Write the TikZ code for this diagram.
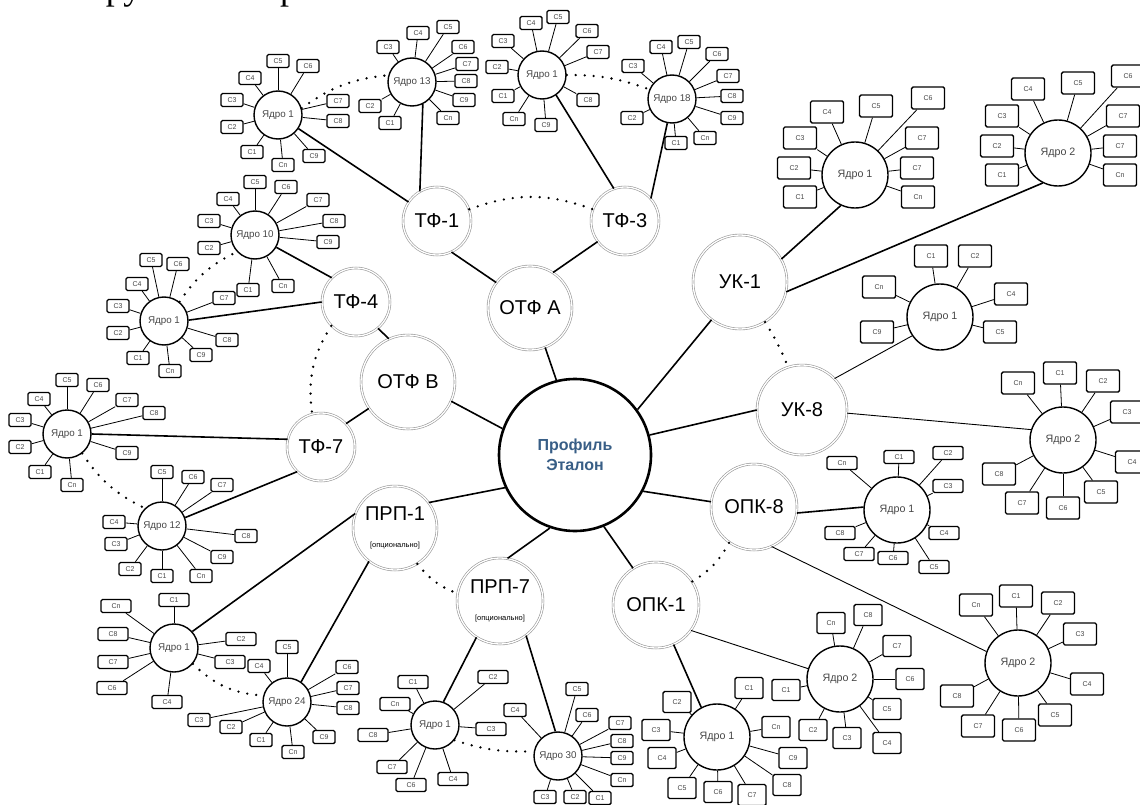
\documentclass[tikz,border=0pt]{standalone}
\usepackage{fontspec}
\setmainfont{Liberation Sans}
\newfontfamily\titlefont{Liberation Serif}
\usepackage{tikz}
\usetikzlibrary{positioning}

\definecolor{hubblue}{RGB}{56,94,134}
\definecolor{ringgray}{RGB}{150,150,150}
\definecolor{labgray}{RGB}{70,70,70}

% one core with its satellite boxes: style, name, position, label, box style, list
\newcommand{\corecluster}[6]{%
  \node[#1] (#2) at (#3) {#4};
  \foreach \lab/\px/\py [count=\k] in {#6}
    \node[#5] (#2-\k) at (\px,\py) {\lab};
  \foreach \lab/\px/\py [count=\k] in {#6}
    \draw[spoke] (#2) -- (#2-\k);
}

\begin{document}
\begin{tikzpicture}[x=1pt, y=-1pt,
  hub/.style={circle, draw, line width=2.6pt, minimum size=152pt, inner sep=0pt,
              align=center, text=hubblue, font=\bfseries\fontsize{16}{20}\selectfont},
  unit/.style={circle, draw=ringgray, double, double distance=1.3pt, line width=0.6pt,
               inner sep=0pt, align=center, font=\fontsize{20}{24}\selectfont},
  core/.style={circle, draw, line width=1.4pt, minimum size=48pt, inner sep=0pt,
               text=labgray, font=\fontsize{9.8}{11}\selectfont},
  bigcore/.style={core, minimum size=66pt, font=\fontsize{10.7}{12}\selectfont},
  sbox/.style={draw, line width=1.4pt, rounded corners=1.5pt, minimum width=22pt,
               minimum height=13pt, inner sep=0pt, text=labgray,
               font=\fontsize{7}{8}\selectfont},
  wbox/.style={sbox, minimum width=30pt},
  mbox/.style={sbox, minimum width=28pt, minimum height=21pt},
  lbox/.style={sbox, minimum width=33pt, minimum height=22pt},
  spoke/.style={line width=0.8pt},
  link/.style={line width=1.6pt},
  thinlink/.style={line width=0.9pt},
  gap/.style={line width=2.6pt, line cap=round, dash pattern=on 0pt off 9pt}]
\useasboundingbox (0,0) rectangle (1140,805);

\node[anchor=base west, inner sep=0pt, font=\titlefont\fontsize{36}{40}\selectfont]
  (title) at (87,0) {Групповой проект};

% centre and units
\node[hub] (prof) at (575,455) {Профиль\\Эталон};
\node[unit, minimum size=84pt] (otfa) at (530,308) {ОТФ А};
\node[unit, minimum size=94pt] (otfb) at (408,382) {ОТФ В};
\node[unit, minimum size=68pt] (tf1) at (437,221) {ТФ-1};
\node[unit, minimum size=68pt] (tf3) at (625,221) {ТФ-3};
\node[unit, minimum size=68pt] (tf4) at (356,302) {ТФ-4};
\node[unit, minimum size=68pt] (tf7) at (321,447) {ТФ-7};
\node[unit, minimum size=94pt] (uk1) at (740,282) {УК-1};
\node[unit, minimum size=90pt] (uk8) at (802,410) {УК-8};
\node[unit, minimum size=86pt] (opk8) at (754,507) {ОПК-8};
\node[unit, minimum size=86pt] (opk1) at (656,605) {ОПК-1};
\node[unit, minimum size=84pt] (prp1) at (395,528)
  {ПРП-1\\[3pt]{\fontsize{7.5}{9}\selectfont [опционально]}};
\node[unit, minimum size=86pt] (prp7) at (500,601)
  {ПРП-7\\[3pt]{\fontsize{7.5}{9}\selectfont [опционально]}};

\draw[link] (prof.104) -- (otfa.-69);
\draw[link] (prof.160) -- (otfb.-24);
\draw[link] (prof.36) -- (uk1.233);
\draw[link] (prof.15) -- (uk8.180);
\draw[link] (prof.-28) -- (opk8.173);
\draw[link] (prof.-68) -- (opk1.122);
\draw[link] (prof.-109) -- (prp7.80);
\draw[link] (prof.205) -- (prp1.37);
\draw[link] (otfa.143) -- (tf1.-65);
\draw[link] (otfa.57) -- (tf3.217);
\draw[link] (otfb.114) -- (tf4.-50);
\draw[link] (otfb.214) -- (tf7.43);

% cores of the units
\corecluster{core}{a1}{278,115}{Ядро 1}{sbox}{С1/252/152, С2/232/127, С3/232/100,
  С4/250/78, С5/278/61, С6/308/66, С7/338/101, С8/338/121, С9/314/156, Сп/283/165}
\corecluster{core}{a13}{412,82}{Ядро 13}{sbox}{С1/390/123, С2/370/106, С3/388/47,
  С4/418/33, С5/448/27, С6/463/47, С7/467/64, С8/466/81, С9/464/100, Сп/448/118}
\corecluster{core}{a1b}{542,75}{Ядро 1}{sbox}{С1/503/96, С2/497/67, С3/503/41,
  С4/531/23, С5/558/17, С6/587/31, С7/598/52, С8/588/100, С9/546/125, Сп/514/119}
\corecluster{core}{a18}{672,99}{Ядро 18}{sbox}{С1/676/143, С2/632/118, С3/633/66,
  С4/661/47, С5/689/42, С6/717/54, С7/728/76, С8/732/96, С9/732/118, Сп/705/138}
\corecluster{core}{a10}{255,235}{Ядро 10}{sbox}{С1/248/290, С2/209/248, С3/209/221,
  С4/228/199, С5/255/182, С6/286/187, С7/318/200, С8/334/221, С9/328/242, Сп/283/286}
\corecluster{core}{a1c}{164,321}{Ядро 1}{sbox}{С1/138/358, С2/118/333, С3/118/306,
  С4/137/284, С5/151/260, С6/178/264, С7/224/298, С8/227/340, С9/201/355, Сп/170/371}
\corecluster{core}{a1d}{67,434}{Ядро 1}{sbox}{С1/40/472, С2/20/447, С3/20/420,
  С4/39/399, С5/67/380, С6/98/385, С7/127/400, С8/154/413, С9/127/453, Сп/72/485}
\corecluster{core}{a12}{162,526}{Ядро 12}{sbox}{С1/162/576, С2/130/569, С3/116/544,
  С4/114/522, С5/162/472, С6/193/477, С7/222/485, С8/246/536, С9/222/557, Сп/201/576}
\corecluster{core}{b12}{174,648}{Ядро 1}{wbox}{С1/174/600, С2/241/639, С3/230/662,
  С4/167/702, С6/112/688, С7/113/662, С8/113/634, Сп/116/606}
\corecluster{core}{b11}{287,702}{Ядро 24}{sbox}{С1/261/740, С2/231/727, С3/199/720,
  С4/259/666, С5/287/647, С6/347/667, С7/348/688, С8/348/708, С9/324/737, Сп/293/752}
\corecluster{core}{b10}{435,725}{Ядро 1}{wbox}{С1/413/682, С2/493/677, С3/491/729,
  С4/453/779, С6/411/785, С7/392/767, С8/373/735, Сп/395/704}
\corecluster{core}{b9}{558,756}{Ядро 30}{sbox}{С1/600/798, С2/575/797, С3/545/797,
  С4/515/710, С5/577/689, С6/587/715, С7/620/723, С8/622/741, С9/622/758, Сп/622/780}
\corecluster{bigcore}{b8}{717,737}{Ядро 1}{mbox}{С1/749/688, С2/677/702, С3/656/730,
  С4/662/758, С5/682/788, С6/718/792, С7/752/795, С8/787/785, С9/793/758, Сп/776/727}
\corecluster{bigcore}{b7}{840,679}{Ядро 2}{mbox}{С1/786/690, С2/813/730, С3/847/738,
  С4/887/743, С5/887/709, С6/910/679, С7/897/646, С8/868/615, Сп/831/623}
\corecluster{bigcore}{b6}{1018,663}{Ядро 2}{lbox}{С1/1016/596, С2/1058/603, С3/1080/634,
  С4/1087/684, С5/1055/715, С6/1019/730, С7/978/726, С8/957/696, Сп/976/605}
\corecluster{bigcore}{b5}{897,510}{Ядро 1}{wbox}{С1/899/457, С2/948/453, С3/948/486,
  С4/944/533, С5/934/567, С6/893/558, С7/859/554, С8/840/533, Сп/842/463}
\corecluster{bigcore}{b4}{1063,440}{Ядро 2}{lbox}{Сп/1018/383, С1/1060/373, С2/1103/381,
  С3/1127/412, С4/1132/462, С5/1101/492, С6/1063/508, С7/1022/503, С8/999/474}
\corecluster{bigcore}{b3}{940,317}{Ядро 1}{lbox}{С1/931/256, С2/975/256, Сп/879/287,
  С4/1011/294, С9/877/332, С5/1000/332}
\corecluster{bigcore}{b2}{1058,153}{Ядро 2}{lbox}{С1/1002/175, С2/997/146, С3/1002/116,
  С4/1028/89, С5/1078/83, С6/1128/76, С7/1123/116, С7/1120/146, Сп/1120/175}
\corecluster{bigcore}{b1}{855,175}{Ядро 1}{lbox}{С1/800/197, С2/794/168, С3/800/138,
  С4/827/112, С5/876/106, С6/928/98, С7/922/138, С7/917/168, Сп/918/197}

\draw[link] (a1) -- (tf1);
\draw[link] (a13.-64) -- (tf1.120);
\draw[link] (a1b.-55) -- (tf3.109);
\draw[link] (a18.-101) -- (tf3.41);
\draw[link] (a10.-30) -- (tf4.135);
\draw[link] (a1c.2) -- (tf4.180);
\draw[link] (a1d.0) -- (tf7.167);
\draw[link] (a12.20) -- (tf7.226);
\draw[link] (b1.245) -- (uk1.29);
\draw[link] (b2.243) -- (uk1.-12);
\draw[thinlink] (b3.214) -- (uk8.44);
\draw[thinlink] (b4.162) -- (uk8.-4);
\draw[link] (b5.175) -- (opk8.-8);
\draw[thinlink] (b6.160) -- (opk8.-66);
\draw[thinlink] (b7.162) -- (opk1.-36);
\draw[link] (b8.118) -- (opk1.-66);
\draw[link] (b9.96) -- (prp7.-53);
\draw[link] (b10.70) -- (prp7.237);
\draw[link] (b11.55) -- (prp1.232);
\draw[link] (b12.42) -- (prp1.160);

% dotted ranges
\draw[gap] (a1.16) to[bend left=15] (a13.164);
\draw[gap] (a1b.0) to[bend left=10] (a18.157);
\draw[gap] (tf1.20) to[bend left=20] (tf3.160);
\draw[gap] (a1c.51) to[bend left=15] (a10.223);
\draw[gap] (tf4.224) to[bend right=20] (tf7.105);
\draw[gap] (a1d.-52) to[bend right=15] (a12.134);
\draw[gap] (b12.-40) to[bend right=20] (b11.165);
\draw[gap] (prp1.-58) to[bend right=15] (prp7.170);
\draw[gap] (b10.-38) to[bend right=10] (b9.169);
\draw[gap] (opk1.33) to[bend right=15] (opk8.235);
\draw[gap] (uk1.-58) to[bend left=5] (uk8.108);
\end{tikzpicture}
\end{document}
